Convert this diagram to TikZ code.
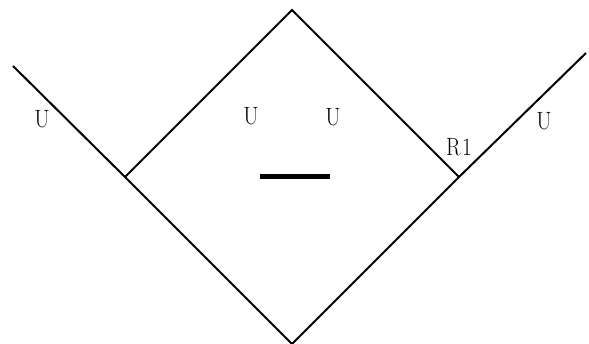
\documentclass[tikz,border=0pt]{standalone}
\begin{document}
\begin{tikzpicture}[x=1pt,y=-1pt,
  edge/.style={line width=2pt},
  bar/.style={line width=5pt},
  lbl/.style={inner sep=0pt,font=\fontsize{25}{28}\selectfont}]
\useasboundingbox (0,0) rectangle (589,344);
\coordinate (lend) at (13,66);
\coordinate (top) at (292,10);
\coordinate (left) at (125,177);
\coordinate (bot) at (292,344);
\coordinate (right) at (459,177);
\coordinate (rend) at (586,53);
\coordinate (b1) at (260,176.5);
\coordinate (b2) at (330,176.5);
\draw[edge] (lend) -- (left) -- (bot) -- (right) -- (rend);
\draw[edge] (left) -- (top) -- (right);
\draw[bar] (b1) -- (b2);
\node[lbl] (u1) at (42,119) {\scalebox{0.88}[1]{U}};
\node[lbl] (u2) at (251,116.5) {\scalebox{0.88}[1]{U}};
\node[lbl] (u3) at (333,117) {\scalebox{0.88}[1]{U}};
\node[lbl] (r1) at (459,147) {\scalebox{0.85}[1]{R\kern2pt1}};
\node[lbl] (u4) at (544,121) {\scalebox{0.88}[1]{U}};
\end{tikzpicture}
\end{document}
